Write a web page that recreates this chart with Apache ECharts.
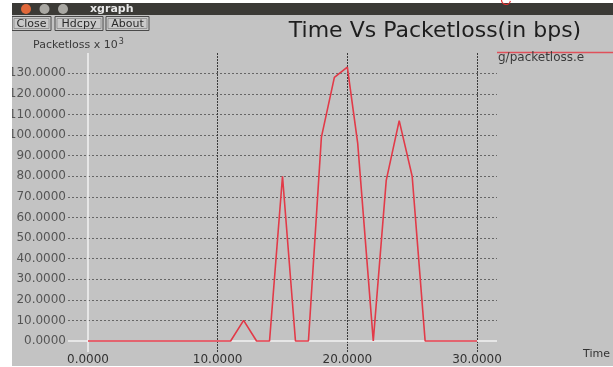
<!DOCTYPE html>
<html>
<head>
<meta charset="utf-8">
<script src="https://cdn.jsdelivr.net/npm/echarts@6/dist/echarts.min.js"></script>
<style>
  html, body { margin: 0; padding: 0; background: #ffffff; }
  #chart { width: 613px; height: 367px; }
</style>
</head>
<body>
<div id="chart"></div>
<script>
// Packet loss trace (time in seconds, loss in units of 10^3)
const times = [0, 11, 12, 13, 14, 15, 16, 17, 18, 19, 20, 20.8, 22, 23, 24, 25, 26, 30];
const loss  = [0, 0, 10, 0, 0, 80, 0, 0, 99, 128, 133, 96, 0, 78, 107, 80, 0, 0];

// Tick labels on each axis
const xTicks = [0, 10, 20, 30];
const yTicks = [0, 10, 20, 30, 40, 50, 60, 70, 80, 90, 100, 110, 120, 130];

const titleText = 'Time Vs Packetloss(in bps)';
const seriesName = 'g/packetloss.e';

const chart = echarts.init(document.getElementById('chart'), null, { renderer: 'canvas' });

const GRID = { left: 68, right: 116, top: 53, bottom: 15 };
const FONT = 'DejaVu Sans';

const points = times.map((t, i) => [t, loss[i]]);

// grid lines drawn as mark lines (dotted), plus the white zero lines
const hLines = yTicks.filter(v => v !== 0).map(v => ({ yAxis: v }));
const vLines = xTicks.filter(v => v !== 0).map(v => ({ xAxis: v }));

function button(x, w, label) {
  return {
    type: 'group',
    children: [
      { type: 'rect', shape: { x: x, y: 16.5, width: w, height: 14 },
        style: { fill: '#c9c9c9', stroke: '#4a4a4a', lineWidth: 1 } },
      { type: 'rect', shape: { x: x + 2, y: 18.5, width: w - 4, height: 10 },
        style: { fill: 'none', stroke: '#8a8a8a', lineWidth: 0.8 } },
      { type: 'text', x: x + w / 2, y: 24,
        style: { text: label, font: '11px "DejaVu Sans"', fill: '#2a2a2a',
                 align: 'center', verticalAlign: 'middle' } }
    ]
  };
}

const option = {
  backgroundColor: '#ffffff',
  animation: false,
  grid: { left: GRID.left, right: GRID.right, top: GRID.top, bottom: GRID.bottom, containLabel: false },
  xAxis: {
    type: 'value',
    min: -1.542, max: 31.542,
    axisLine: { show: false },
    axisTick: { show: false },
    splitLine: { show: false },
    axisLabel: {
      customValues: xTicks,
      formatter: v => v.toFixed(4),
      fontFamily: FONT, fontSize: 12, color: '#333333',
      margin: 2, verticalAlign: 'top'
    }
  },
  yAxis: {
    type: 'value',
    min: -5.34, max: 139.86,
    axisLine: { show: false },
    axisTick: { show: false },
    splitLine: { show: false },
    axisLabel: {
      customValues: yTicks,
      formatter: v => v.toFixed(4),
      fontFamily: FONT, fontSize: 12, color: '#555555',
      margin: 2
    }
  },
  series: [
    {
      type: 'line',
      name: 'grid',
      data: [],
      z: 1,
      silent: true,
      markLine: {
        silent: true,
        symbol: 'none',
        z: 1,
        label: { show: false },
        data: [
          ...hLines.map(d => Object.assign({}, d, { lineStyle: { color: '#666666', type: [2, 2], width: 1 } })),
          ...vLines.map(d => Object.assign({}, d, { lineStyle: { color: '#3a3a3a', type: [2, 1], width: 1 } })),
          { yAxis: 0, lineStyle: { color: '#f2f2f2', type: 'solid', width: 1.5 } },
          { xAxis: 0, lineStyle: { color: '#f2f2f2', type: 'solid', width: 1.5 } }
        ]
      }
    },
    {
      type: 'line',
      name: seriesName,
      data: points,
      z: 5,
      symbol: 'none',
      lineStyle: { color: '#e23a48', width: 1.6 },
      silent: true
    }
  ],
  graphic: [
    // window body
    { type: 'rect', z: -10, shape: { x: 12, y: 14, width: 601, height: 352 }, style: { fill: '#c3c3c3' } },
    // title bar
    { type: 'rect', z: 100, shape: { x: 12, y: 3, width: 601, height: 12 }, style: { fill: '#3b3a36' } },
    { type: 'circle', z: 101, shape: { cx: 26, cy: 9, r: 5 }, style: { fill: '#e0683a' } },
    { type: 'circle', z: 101, shape: { cx: 44.5, cy: 9, r: 5 }, style: { fill: '#a9a8a3' } },
    { type: 'circle', z: 101, shape: { cx: 63, cy: 9, r: 5 }, style: { fill: '#a9a8a3' } },
    { type: 'text', z: 101, x: 90, y: 9,
      style: { text: 'xgraph', font: 'bold 11px "DejaVu Sans"', fill: '#e8e8e8', verticalAlign: 'middle' } },
    // left white margin outside the window
    { type: 'rect', z: 100, shape: { x: 0, y: 0, width: 12, height: 367 }, style: { fill: '#ffffff' } },
    // pen mark above the window
    { type: 'arc', z: 100, shape: { cx: 506, cy: 0, r: 4.5, startAngle: 0.2, endAngle: Math.PI + 0.4 },
      style: { stroke: '#e03030', lineWidth: 1.2, fill: 'none' } },
    // buttons
    button(12, 39, 'Close'),
    button(55, 48, 'Hdcpy'),
    button(106, 43, 'About'),
    // title
    { type: 'text', x: 435, y: 31,
      style: { text: titleText, font: '22px "DejaVu Sans"', fill: '#1e1e1e',
               align: 'center', verticalAlign: 'middle' } },
    // y-axis unit label
    { type: 'text', x: 33, y: 45,
      style: {
        text: '{a|Packetloss x 10}{s|3}',
        verticalAlign: 'middle',
        rich: {
          a: { fontFamily: FONT, fontSize: 11, fill: '#3a3a3a' },
          s: { fontFamily: FONT, fontSize: 8, fill: '#3a3a3a', verticalAlign: 'top', padding: [0, 0, 7, 1] }
        }
      } },
    // legend
    { type: 'line', shape: { x1: 497, y1: 52.5, x2: 613, y2: 52.5 },
      style: { stroke: '#e0505a', lineWidth: 1.5 } },
    { type: 'text', x: 498, y: 58,
      style: { text: seriesName, font: '12px "DejaVu Sans"', fill: '#3a3a3a', verticalAlign: 'middle' } },
    // x-axis name
    { type: 'text', x: 583, y: 354,
      style: { text: 'Time', font: '11px "DejaVu Sans"', fill: '#333333', verticalAlign: 'middle' } }
  ]
};

chart.setOption(option);
</script>
</body>
</html>
